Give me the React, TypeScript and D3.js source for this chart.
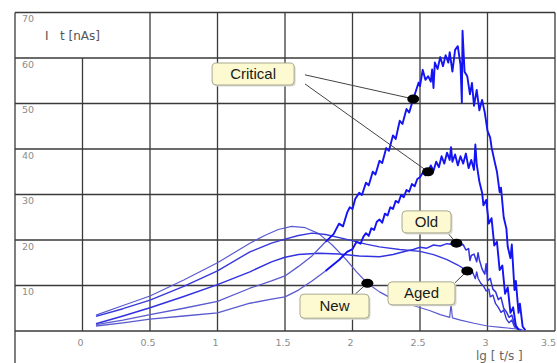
import React from 'react';
import * as d3 from 'd3';

// lg(t/s) vs charge
const newCurve: [number, number][] = [
  [0.1, 3.5], [0.3, 5.6], [0.5, 7.7], [0.75, 11.2], [1.0, 15.0], [1.24, 19.3], [1.35, 21.0], [1.45, 22.3],
  [1.55, 23.0], [1.65, 22.7], [1.75, 21.4], [1.85, 18.9], [1.95, 15.8], [2.03, 13.0], [2.11, 10.5], [2.2, 8.6],
  [2.3, 7.0], [2.45, 5.6], [2.57, 4.5], [2.65, 3.6], [2.72, 3.0], [2.73, 6.0], [2.74, 2.9], [2.8, 2.4],
  [2.9, 1.7], [3.0, 1.1], [3.1, 0.8], [3.2, 0.5], [3.26, 0.3],
];

const agedCurve: [number, number][] = [
  [0.1, 3.2], [0.3, 4.9], [0.5, 6.8], [0.75, 9.8], [1.0, 13.2], [1.24, 17.4], [1.4, 19.3], [1.5, 20.2],
  [1.6, 21.0], [1.7, 21.5], [1.8, 21.2], [1.95, 20.2], [2.1, 19.1], [2.2, 18.5], [2.35, 17.9], [2.5, 17.5],
  [2.6, 16.8], [2.7, 15.7], [2.78, 14.5], [2.85, 13.2], [2.87, 12.4], [2.89, 12.9], [2.91, 11.5], [2.92, 13.0],
  [2.93, 11.6], [2.95, 10.5], [2.97, 9.9], [2.99, 8.8], [3.01, 9.2], [3.02, 7.5], [3.04, 7.9], [3.06, 6.0],
  [3.08, 5.2], [3.1, 4.1], [3.12, 4.6], [3.14, 2.6], [3.16, 1.8], [3.18, 2.4], [3.2, 0.9], [3.22, 0.5], [3.25, 0.2],
];

const oldCurve: [number, number][] = [
  [0.1, 1.6], [0.3, 3.3], [0.5, 5.1], [0.75, 7.6], [1.0, 10.2], [1.24, 13.0], [1.4, 15.2], [1.5, 16.2],
  [1.6, 16.8], [1.75, 17.1], [1.9, 16.9], [2.05, 16.5], [2.2, 16.3], [2.3, 16.8], [2.4, 17.6], [2.45, 17.9],
  [2.5, 18.4], [2.55, 18.2], [2.6, 18.9], [2.65, 18.7], [2.7, 19.2], [2.74, 19.0], [2.77, 19.3], [2.8, 18.8],
  [2.82, 19.0], [2.84, 17.8], [2.86, 18.1], [2.87, 15.5], [2.88, 16.6], [2.9, 16.9], [2.92, 15.2], [2.93, 17.2],
  [2.94, 15.6], [2.96, 13.6], [2.98, 12.5], [2.99, 14.8], [3.0, 11.0], [3.02, 11.6], [3.04, 9.2], [3.06, 8.6],
  [3.08, 6.9], [3.1, 7.4], [3.12, 5.0], [3.14, 4.2], [3.16, 3.0], [3.18, 3.5], [3.2, 1.5], [3.22, 0.6], [3.24, 0.2],
];

const critLow: [number, number][] = [
  [0.1, 1.1], [0.3, 1.8], [0.5, 2.6], [0.75, 3.3], [1.0, 4.0], [1.24, 6.1], [1.4, 7.0], [1.5, 7.5],
  [1.6, 9.0], [1.7, 11.0], [1.8, 13.2], [1.9, 15.6], [1.96, 17.4], [2.0, 18.0], [2.03, 19.6], [2.06, 19.2],
  [2.08, 20.7], [2.1, 21.5], [2.12, 20.9], [2.14, 22.6], [2.16, 22.2], [2.18, 24.0], [2.2, 24.5], [2.22, 23.8],
  [2.24, 25.8], [2.26, 25.4], [2.28, 27.2], [2.3, 26.8], [2.32, 28.6], [2.34, 28.2], [2.36, 29.9], [2.38, 29.4],
  [2.4, 31.0], [2.42, 30.6], [2.44, 32.3], [2.46, 31.8], [2.48, 33.4], [2.5, 33.8], [2.52, 34.8], [2.54, 34.2],
  [2.56, 35.0], [2.58, 36.4], [2.6, 35.2], [2.62, 37.2], [2.64, 36.0], [2.66, 38.4], [2.68, 36.8], [2.7, 39.2],
  [2.72, 37.6], [2.73, 40.4], [2.74, 37.2], [2.76, 38.8], [2.78, 36.4], [2.8, 38.4], [2.82, 36.8], [2.84, 39.0],
  [2.86, 35.8], [2.88, 37.6], [2.9, 35.4], [2.91, 41.0], [2.92, 36.6], [2.94, 32.8], [2.96, 30.4], [2.97, 27.6],
  [2.99, 28.8], [3.01, 23.6], [3.03, 24.8], [3.05, 18.8], [3.07, 19.6], [3.09, 13.4], [3.11, 14.4], [3.13, 8.2],
  [3.15, 9.6], [3.17, 4.0], [3.19, 5.2], [3.21, 1.2], [3.23, 0.3],
];

const critHigh: [number, number][] = [
  [0.1, 1.4], [0.3, 2.4], [0.5, 3.6], [0.75, 5.0], [1.0, 6.5], [1.24, 9.4], [1.4, 11.0], [1.5, 12.1],
  [1.6, 14.2], [1.7, 16.5], [1.8, 19.6], [1.86, 21.3], [1.9, 23.6], [1.93, 23.0], [1.96, 26.0], [1.98, 27.2],
  [2.0, 26.8], [2.02, 29.0], [2.05, 30.4], [2.07, 29.9], [2.1, 32.6], [2.12, 32.0], [2.15, 35.0], [2.17, 34.4],
  [2.2, 37.4], [2.22, 36.9], [2.25, 40.2], [2.27, 39.6], [2.3, 43.0], [2.32, 42.2], [2.35, 46.2], [2.37, 45.5],
  [2.4, 48.8], [2.42, 48.0], [2.45, 51.0], [2.47, 52.8], [2.49, 54.6], [2.5, 53.8], [2.52, 57.4], [2.54, 55.2],
  [2.56, 56.0], [2.58, 54.8], [2.59, 57.5], [2.6, 53.4], [2.61, 59.0], [2.63, 57.6], [2.65, 60.2], [2.67, 58.2],
  [2.69, 60.6], [2.71, 59.0], [2.72, 61.3], [2.74, 57.0], [2.76, 61.8], [2.78, 62.6], [2.8, 58.5], [2.81, 50.2],
  [2.815, 66.0], [2.83, 57.0], [2.85, 56.0], [2.87, 52.0], [2.885, 54.5], [2.9, 49.5], [2.92, 53.0], [2.94, 48.5],
  [2.96, 50.8], [2.98, 48.0], [3.0, 44.0], [3.02, 42.5], [3.03, 40.4], [3.05, 37.6], [3.07, 35.0], [3.09, 30.5],
  [3.1, 31.5], [3.12, 25.0], [3.14, 22.5], [3.15, 18.5], [3.17, 16.0], [3.18, 19.0], [3.2, 9.0], [3.21, 11.0],
  [3.23, 4.0], [3.24, 6.0], [3.26, 1.0], [3.28, 0.2],
];

const xTicks = [0, 0.5, 1, 1.5, 2, 2.5, 3, 3.5];
const yTicks = [10, 20, 30, 40, 50, 60, 70];

// dots on the curves
const markers: [number, number][] = [[2.11, 10.5], [2.85, 13.2], [2.77, 19.3], [2.45, 51.0], [2.56, 35.0]];

// callouts: label, box corner (lg, value), box size
const callouts = [
  { label: 'Critical', lg: 0.96, val: 58.9, w: 82, h: 22 },
  { label: 'Old', lg: 2.367, val: 26.4, w: 49, h: 22 },
  { label: 'Aged', lg: 2.263, val: 10.8, w: 67, h: 23 },
  { label: 'New', lg: 1.611, val: 8.1, w: 69, h: 24 },
];
// leader lines: from (lg, value) to (lg, value)
const leaders: [number, number, number, number][] = [
  [1.648, 56.3, 2.45, 51.0],
  [1.648, 54.3, 2.56, 35.0],
  [2.707, 21.5, 2.77, 19.3],
  [2.759, 10.6, 2.85, 13.2],
  [2.02, 8.1, 2.11, 10.5],
];

const W = 557;
const H = 363;

export default function App() {
  const x = d3.scaleLinear().domain([-0.5, 3.5]).range([15, 555]);
  const y = d3.scaleLinear().domain([0, 70]).range([331, 12.5]);
  const line = d3.line<[number, number]>().x(d => x(d[0])).y(d => y(d[1]));
  const font = 'DejaVu Sans, sans-serif';
  const grid = '#3a3a3a';
  const thin = '#5a5ad0';

  // early parts of the critical curves are drawn thin like the others
  const split = 1.8;
  const series = [
    { d: newCurve, c: thin, w: 1.2 },
    { d: agedCurve, c: '#3838dc', w: 1.4 },
    { d: oldCurve, c: '#3232e0', w: 1.5 },
    { d: critLow.filter(p => p[0] <= split), c: thin, w: 1.3 },
    { d: critHigh.filter(p => p[0] <= split), c: thin, w: 1.3 },
    { d: critLow.filter(p => p[0] >= split), c: '#1414f2', w: 1.9 },
    { d: critHigh.filter(p => p[0] >= split), c: '#1414f2', w: 1.9 },
  ];

  return (
    <svg width={W} height={H} style={{ position: 'absolute', left: 0, top: 0, background: '#fff' }}>
      {/* grid */}
      {yTicks.concat([0]).map(t => (
        <line key={'h' + t} x1={x(-0.5)} x2={x(3.5)} y1={y(t)} y2={y(t)} stroke={grid} strokeWidth={1.3} />
      ))}
      <line x1={x(-0.5)} x2={x(-0.5)} y1={y(70)} y2={H} stroke={grid} strokeWidth={1.3} />
      {xTicks.map(t => (
        <line key={'v' + t} x1={x(t)} x2={x(t)} y1={t === 0 ? y(60) : y(70)} y2={y(0)} stroke={grid} strokeWidth={1.3} />
      ))}

      {/* tick labels */}
      {yTicks.map(t => (
        <text key={'yt' + t} x={22} y={y(t) + 9.5} fontSize={9.5} fill="#8c8c8c" fontFamily={font}>{t}</text>
      ))}
      {xTicks.map(t => (
        <text key={'xt' + t} x={t === 3.5 ? W - 1 : x(t) - 2} y={346} fontSize={9.5} fill="#8c8c8c" fontFamily={font}
          textAnchor={t === 3.5 ? 'end' : 'middle'}>{t}</text>
      ))}
      <text x={476} y={360} fontSize={12} fill="#666" fontFamily={font} style={{ whiteSpace: 'pre' }}>{'lg [ t/s ]'}</text>
      <text x={45} y={40} fontSize={12} fill="#555" fontFamily={font} style={{ whiteSpace: 'pre' }}>{'I   t [nAs]'}</text>

      {/* curves */}
      {series.map((s, i) => (
        <path key={'s' + i} d={line(s.d) || ''} fill="none" stroke={s.c} strokeWidth={s.w} strokeLinejoin="round" />
      ))}

      {/* leaders */}
      {leaders.map((l, i) => (
        <line key={'l' + i} x1={x(l[0])} y1={y(l[1])} x2={x(l[2])} y2={y(l[3])} stroke="#444" strokeWidth={1} />
      ))}

      {/* markers */}
      {markers.map((m, i) => (
        <ellipse key={'m' + i} cx={x(m[0])} cy={y(m[1])} rx={6} ry={4.5} fill="#000" />
      ))}

      {/* callouts */}
      {callouts.map(c => (
        <g key={c.label} transform={`translate(${x(c.lg)},${y(c.val)})`}>
          <rect x={1.5} y={1.5} width={c.w} height={c.h} rx={4} fill="#d8d8d0" />
          <rect width={c.w} height={c.h} rx={4} fill="#fdfad2" stroke="#a8a890" strokeWidth={1} />
          <text x={c.w / 2} y={c.h / 2 + 5} textAnchor="middle" fontSize={15} fill="#1a1a1a" fontFamily="Liberation Sans, Arial, sans-serif">{c.label}</text>
        </g>
      ))}
    </svg>
  );
}
